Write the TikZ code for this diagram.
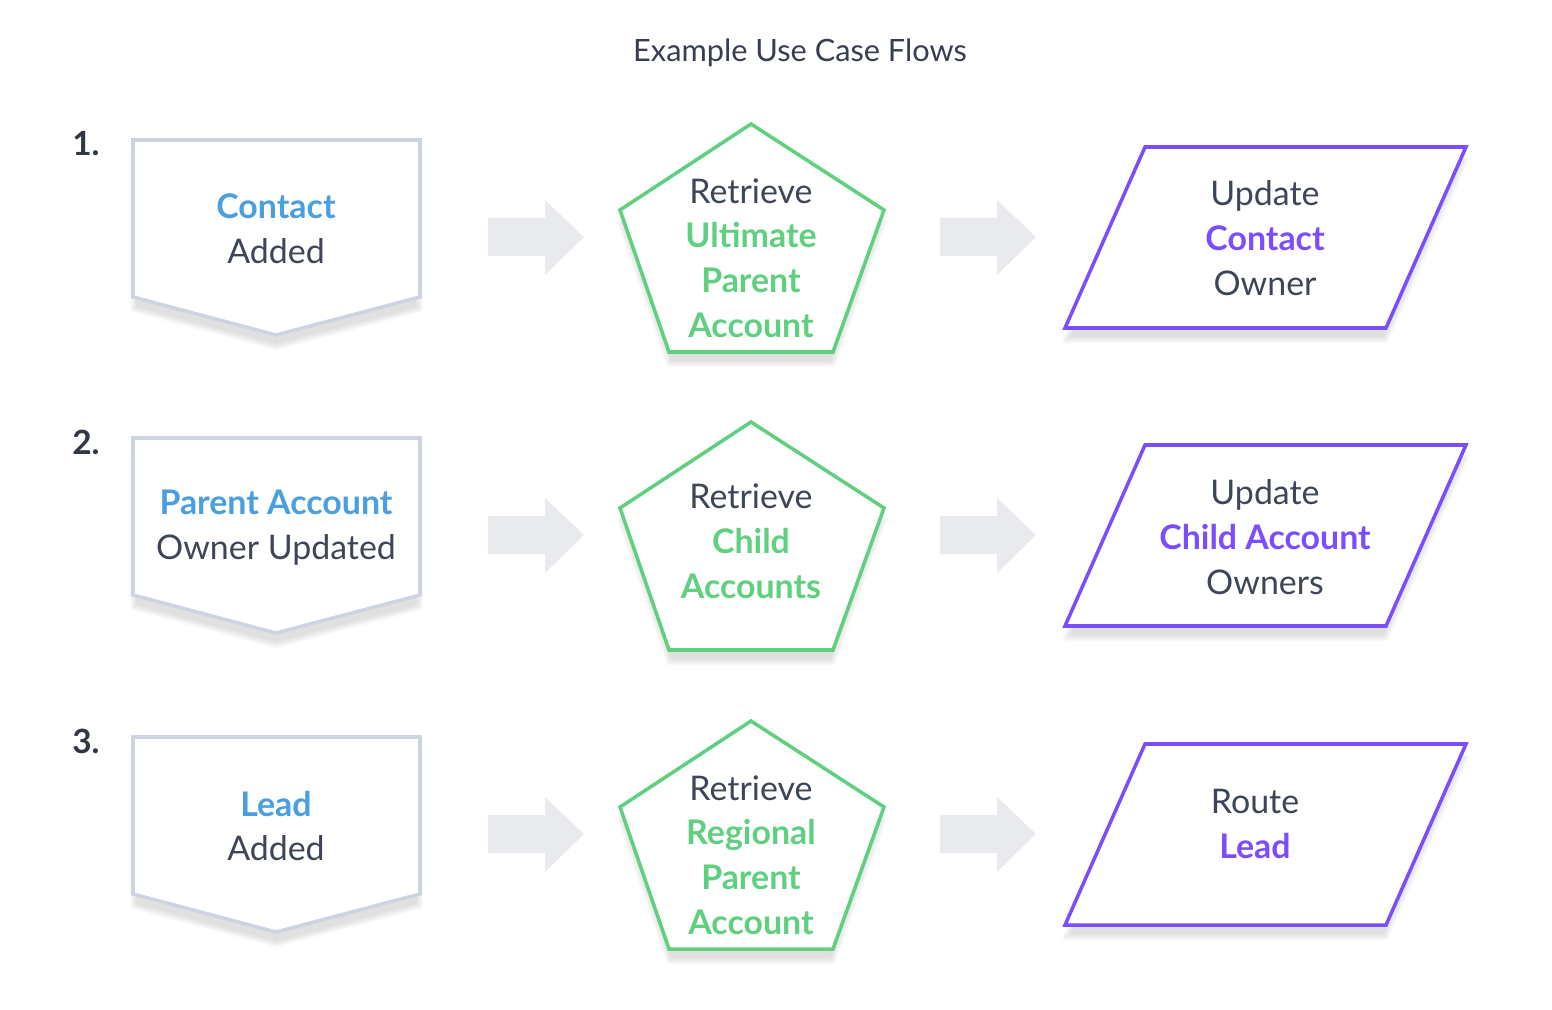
\documentclass[tikz,border=0pt]{standalone}
\usepackage{fontspec}
\setmainfont{Lato}
\usetikzlibrary{shadows.blur}
\definecolor{cbl}{HTML}{4A9FE0}
\definecolor{cdk}{HTML}{3D4556}
\definecolor{cgr}{HTML}{5FCF80}
\definecolor{cpu}{HTML}{7C4DFF}
\definecolor{cgy}{HTML}{CDD3E0}
\definecolor{car}{HTML}{E8EAEE}
\begin{document}
\begin{tikzpicture}[x=0.02cm,y=-0.02cm,
 shd/.style={blur shadow={shadow blur steps=8,shadow xshift=0pt,shadow yshift=-0.25cm,shadow opacity=12}},
 chev/.style={draw=cgy,line width=2pt,fill=white,shd},
 pent/.style={draw=cgr,line width=2pt,fill=white,shd},
 para/.style={draw=cpu,line width=2pt,fill=white,shd,line join=miter},
 arr/.style={fill=car},
 txt/.style={align=center,text=cdk,font=\fontsize{19.3}{25.5}\selectfont},
 num/.style={text=cdk!80!black,font=\fontsize{19}{22}\bfseries\selectfont}]
\useasboundingbox (0,0) rectangle (1552,1010);
\node[text=cdk!90!black,font=\fontsize{17.5}{20}\selectfont] (title) at (800,53) {Example Use Case Flows};
\foreach \r/\n in {0/1,298/2,597/3}{
 \begin{scope}[yshift=-\r*0.02cm]
 \node[num] (n\n) at (86,144) {\n.};
 \draw[chev] (133,140) -- (420,140) -- (420,297) -- (276,335) -- (133,297) -- cycle;
 \draw[pent] (751,124) -- (884,210) -- (833,352) -- (669,352) -- (620,210) -- cycle;
 \draw[para] (1145,147) -- (1466,147) -- (1386,328) -- (1065,328) -- cycle;
 \fill[arr] (488,218) -- (545,218) -- (545,200) -- (584,237) -- (545,275) -- (545,256) -- (488,256) -- cycle;
 \fill[arr] (940,218) -- (997,218) -- (997,200) -- (1036,237) -- (997,275) -- (997,256) -- (940,256) -- cycle;
 \end{scope}}
\node[txt] (a1) at (276,229) {\textcolor{cbl}{\bfseries Contact}\\Added};
\node[txt] (b1) at (751,258) {Retrieve\\\textcolor{cgr}{\bfseries Ultimate}\\\textcolor{cgr}{\bfseries Parent}\\\textcolor{cgr}{\bfseries Account}};
\node[txt] (c1) at (1265,238) {Update\\\textcolor{cpu}{\bfseries Contact}\\Owner};
\node[txt] (a2) at (276,528) {\textcolor{cbl}{\bfseries Parent Account}\\Owner Updated};
\node[txt] (b2) at (751,541) {Retrieve\\\textcolor{cgr}{\bfseries Child}\\\textcolor{cgr}{\bfseries Accounts}};
\node[txt] (c2) at (1265,537) {Update\\\textcolor{cpu}{\bfseries Child Account}\\Owners};
\node[txt] (a3) at (276,826) {\textcolor{cbl}{\bfseries Lead}\\Added};
\node[txt] (b3) at (751,855) {Retrieve\\\textcolor{cgr}{\bfseries Regional}\\\textcolor{cgr}{\bfseries Parent}\\\textcolor{cgr}{\bfseries Account}};
\node[txt] (c3) at (1255,824) {Route\\\textcolor{cpu}{\bfseries Lead}};
\end{tikzpicture}
\end{document}
